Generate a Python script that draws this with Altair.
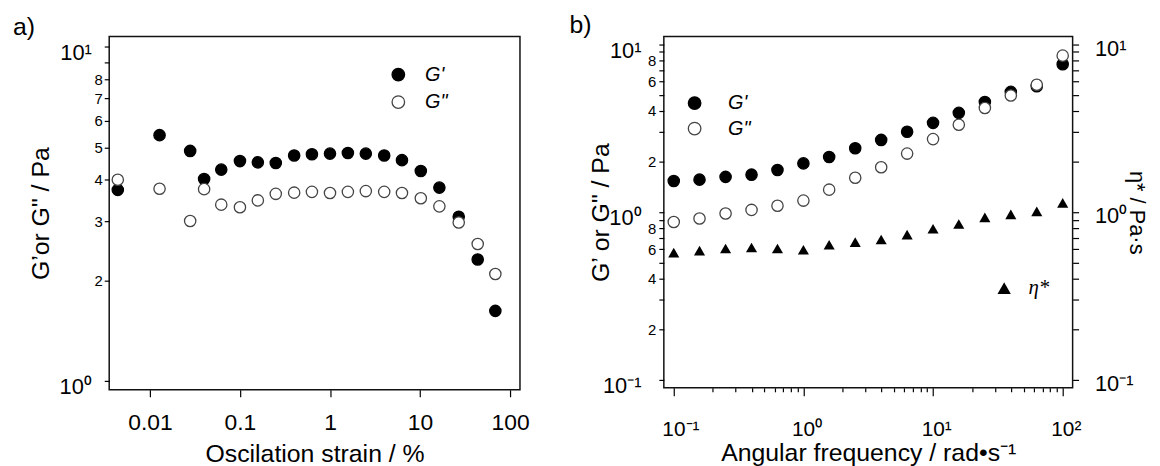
import altair as alt
import pandas as pd

# ---------------- data ----------------
# panel a: strain sweep
strain = [0.0044, 0.0128, 0.028, 0.040, 0.062, 0.1, 0.158, 0.25, 0.40, 0.63,
          1.0, 1.58, 2.5, 4.0, 6.3, 10.2, 16.4, 26.9, 43.7, 68.6]
gp_a = [3.73, 5.44, 4.88, 4.02, 4.29, 4.55, 4.51, 4.49, 4.73, 4.77,
        4.79, 4.81, 4.79, 4.73, 4.58, 4.25, 3.79, 3.10, 2.31, 1.62]
gpp_a = [4.00, 3.76, 3.01, 3.75, 3.37, 3.31, 3.47, 3.63, 3.66, 3.68,
         3.65, 3.68, 3.70, 3.68, 3.65, 3.52, 3.33, 2.98, 2.57, 2.09]

# panel b: frequency sweep
freq = [0.1, 0.158, 0.251, 0.398, 0.631, 1.0, 1.58, 2.51, 3.98, 6.31,
        10, 15.8, 25.1, 39.8, 63.1, 100]
gp_b = [1.53, 1.56, 1.62, 1.67, 1.78, 1.95, 2.13, 2.40, 2.69, 3.01,
        3.40, 3.90, 4.53, 5.20, 5.62, 7.60]
gpp_b = [0.873, 0.915, 0.98, 1.03, 1.09, 1.17, 1.36, 1.60, 1.85, 2.23,
         2.72, 3.31, 4.17, 4.95, 5.73, 8.55]
eta_b = [0.573, 0.589, 0.607, 0.615, 0.607, 0.596, 0.638, 0.662, 0.686, 0.734,
         0.796, 0.849, 0.930, 0.969, 1.01, 1.135]

S1 = "G'"
S2 = 'G"'
ETA = "η*"
FONT = "Liberation Sans"

da = pd.DataFrame({"x": strain * 2, "y": gp_a + gpp_a,
                   "s": [S1] * len(strain) + [S2] * len(strain)})
db = pd.DataFrame({"x": freq * 2, "y": gp_b + gpp_b,
                   "s": [S1] * len(freq) + [S2] * len(freq)})
de = pd.DataFrame({"x": freq, "y": eta_b, "s": [ETA] * len(freq)})

fill_sc = alt.Scale(domain=[S1, S2], range=["black", "white"])
stroke_sc = alt.Scale(domain=[S1, S2], range=["black", "#444444"])

common_axis = dict(domain=False, grid=False, tickColor="black", tickWidth=1.2,
                   labelFont=FONT, labelColor="black", labelOverlap=False,
                   labelFlush=False, titleFont=FONT, titleColor="black",
                   titleFontWeight="normal")

# ---------------- panel a ----------------
xa = alt.Scale(type="log", domain=[0.003532, 128.8], nice=False)
ya = alt.Scale(type="log", domain=[0.9404, 10.73], nice=False)

ax_a_x = alt.Axis(orient="bottom", values=[0.01, 0.1, 1, 10, 100], format="~g",
                  tickSize=7, labelFontSize=23, labelPadding=15,
                  title="Oscilation strain / %", titleFontSize=25,
                  titleBaseline="alphabetic", titleY=72, **common_axis)
ax_a_y = alt.Axis(orient="left", values=list(range(1, 11)),
                  labelExpr="datum.value == 1 ? '10⁰' : (datum.value == 10 ? '10¹' : '')",
                  tickSize=5, labelFontSize=22, labelPadding=13, labelOffset=6,
                  title="G’or G\" / Pa", titleFontSize=25, titleAngle=-90,
                  titleBaseline="alphabetic", titleX=-61, **common_axis)
ax_a_y2 = alt.Axis(orient="left", values=[2, 3, 4, 5, 6, 7, 8], format="d",
                   ticks=False, tickSize=0, labelFontSize=15, labelPadding=7,
                   title=None, **common_axis)

leg_a = alt.Legend(title=None, orient="none", legendX=281.4, legendY=28.3,
                   labelFont=FONT, labelFontStyle="italic", labelFontSize=20,
                   labelColor="black", symbolType="circle", symbolSize=160,
                   symbolStrokeWidth=1.3, symbolOpacity=1, labelOffset=17,
                   rowPadding=7.7, padding=0)

pts_a = alt.Chart(da).mark_point(shape="circle", filled=True, size=130,
                                 strokeWidth=1.3, opacity=1).encode(
    x=alt.X("x:Q", scale=xa, axis=ax_a_x),
    y=alt.Y("y:Q", scale=ya, axis=ax_a_y),
    fill=alt.Fill("s:N", scale=fill_sc, legend=leg_a),
    stroke=alt.Stroke("s:N", scale=stroke_sc, legend=leg_a),
)
inv_a = alt.Chart(da).mark_point(opacity=0).encode(
    x=alt.value(0),
    y=alt.Y("y:Q", scale=ya, axis=ax_a_y2),
)
txt_a = alt.Chart(pd.DataFrame({"t": ["a)"]})).mark_text(
    align="left", baseline="top", font=FONT, fontSize=25, color="black").encode(
    x=alt.value(-97), y=alt.value(-22), text="t:N")

panel_a = alt.layer(pts_a, inv_a, txt_a).resolve_axis(y="independent").properties(
    width=414, height=356)

# ---------------- panel b ----------------
xb = alt.Scale(type="log", domain=[0.08385, 119.3], nice=False)
yb = alt.Scale(type="log", domain=[0.08968, 11.10], nice=False)

minor_x = [m * d for d in (0.1, 1, 10) for m in range(2, 10)]
all_y = [m * d for d in (0.1, 1) for m in range(1, 10)] + [10]

ax_b_x = alt.Axis(orient="bottom", values=[0.1, 1, 10, 100],
                  labelExpr="datum.value < 0.5 ? '10⁻¹' : (datum.value < 5 ? '10⁰' : (datum.value < 50 ? '10¹' : '10²'))",
                  tickSize=8, labelFontSize=21, labelPadding=23, labelAlign="left",
                  labelOffset=-12, title="Angular frequency / rad•s⁻¹",
                  titleFontSize=25, titleBaseline="alphabetic", titleY=73,
                  **common_axis)
ax_b_x2 = alt.Axis(orient="bottom", values=minor_x, tickSize=4, labels=False,
                   title=None, **common_axis)
ax_b_y = alt.Axis(orient="left", values=all_y,
                  labelExpr="datum.value < 0.15 ? '10⁻¹' : (abs(datum.value - 1) < 0.01 ? '10⁰' : (datum.value > 9.5 ? '10¹' : ''))",
                  tickSize=5, labelFontSize=22, labelPadding=18, labelOffset=6,
                  title="G’ or G\" / Pa", titleFontSize=25, titleAngle=-90,
                  titleBaseline="alphabetic", titleX=-56, **common_axis)
ax_b_y2 = alt.Axis(orient="left", values=[0.2, 0.4, 0.6, 0.8, 2, 4, 6, 8],
                   labelExpr="format(datum.value < 1 ? datum.value * 10 : datum.value, 'd')",
                   ticks=False, tickSize=0, labelFontSize=15, labelPadding=8,
                   title=None, **common_axis)
ax_b_yr = alt.Axis(orient="right", values=all_y,
                   labelExpr="datum.value < 0.15 ? '10⁻¹' : (abs(datum.value - 1) < 0.01 ? '10⁰' : (datum.value > 9.5 ? '10¹' : ''))",
                   tickSize=6, labelFontSize=22, labelPadding=16, labelOffset=4,
                   title="η* / Pa·s", titleFontSize=22, titleAngle=90,
                   titleBaseline="alphabetic", titleX=57, **common_axis)

leg_b = alt.Legend(title=None, orient="none", legendX=21, legendY=57,
                   labelFont=FONT, labelFontStyle="italic", labelFontSize=20,
                   labelColor="black", symbolType="circle", symbolSize=160,
                   symbolStrokeWidth=1.3, symbolOpacity=1, labelOffset=23.7,
                   rowPadding=5.7, padding=0)
leg_e = alt.Legend(title=None, orient="none", legendX=332.5, legendY=243,
                   labelFont="Liberation Serif", labelFontStyle="italic",
                   labelFontSize=21, labelColor="black", symbolSize=180,
                   symbolFillColor="black", symbolStrokeColor="black",
                   symbolOpacity=1, labelOffset=14, padding=0)

pts_b = alt.Chart(db).mark_point(shape="circle", filled=True, size=130,
                                 strokeWidth=1.3, opacity=1).encode(
    x=alt.X("x:Q", scale=xb, axis=ax_b_x),
    y=alt.Y("y:Q", scale=yb, axis=ax_b_y),
    fill=alt.Fill("s:N", scale=fill_sc, legend=leg_b),
    stroke=alt.Stroke("s:N", scale=stroke_sc, legend=leg_b),
)
eta_l = alt.Chart(de).mark_point(filled=True, size=125, color="black", opacity=1).encode(
    x=alt.X("x:Q", scale=xb, axis=ax_b_x2),
    y=alt.Y("y:Q", scale=yb, axis=ax_b_yr),
    shape=alt.Shape("s:N", scale=alt.Scale(domain=[ETA], range=["triangle-up"]),
                    legend=leg_e),
)
inv_b = alt.Chart(db).mark_point(opacity=0).encode(
    x=alt.value(0),
    y=alt.Y("y:Q", scale=yb, axis=ax_b_y2),
)
txt_b = alt.Chart(pd.DataFrame({"t": ["b)"]})).mark_text(
    align="left", baseline="top", font=FONT, fontSize=25, color="black").encode(
    x=alt.value(-95), y=alt.value(-24), text="t:N")

panel_b = alt.layer(pts_b, eta_l, inv_b, txt_b).resolve_axis(
    x="independent", y="independent").properties(width=412, height=354)

chart = alt.hconcat(panel_a, panel_b, spacing=39).resolve_scale(
    x="independent", y="independent", fill="independent",
    stroke="independent", shape="independent").resolve_legend(
    fill="independent", stroke="independent", shape="independent").properties(
    padding={"left": 4, "top": 2, "right": 4, "bottom": 4}).configure(
    font=FONT).configure_view(stroke="#111111", strokeWidth=1.5)

chart.save("out.html", embed_options={"renderer": "svg", "actions": False})
